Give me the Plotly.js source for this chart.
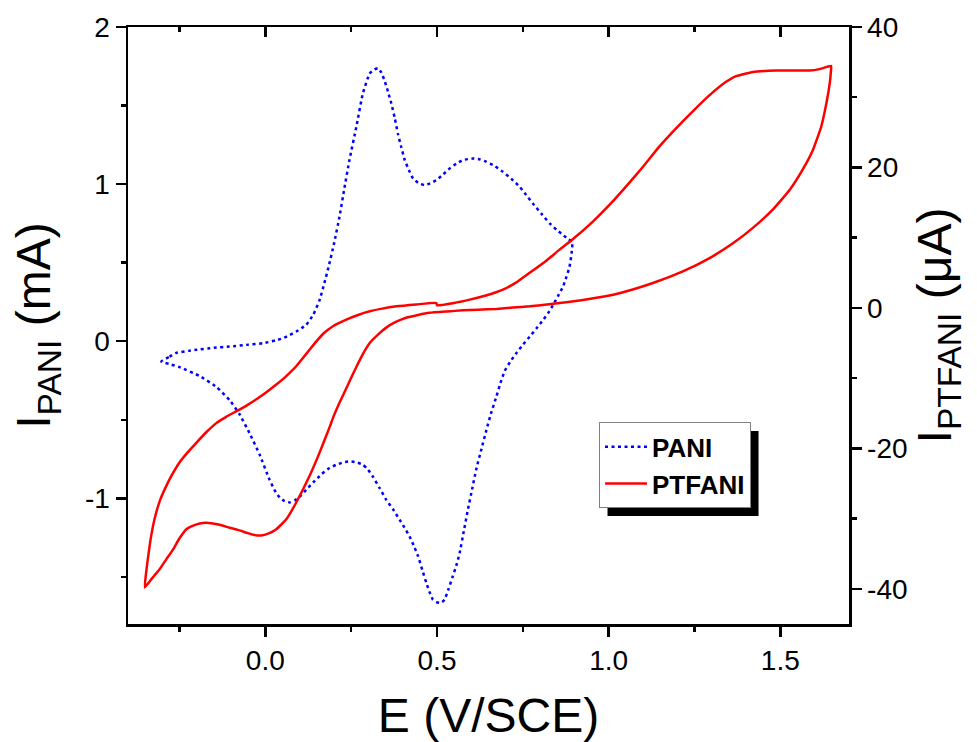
<!DOCTYPE html>
<html>
<head>
<meta charset="utf-8">
<script src="https://cdn.plot.ly/plotly-3.0.1.min.js"></script>
<style>html,body{margin:0;padding:0;background:#fff;}#chart{width:977px;height:742px;}</style>
</head>
<body>
<div id="chart"></div>
<script>
// PANI cyclic voltammogram (left axis, mA)
var paniE = [-0.303,-0.279,-0.26,-0.22,-0.201,-0.15,-0.104,-0.05,-0.007,0.03,0.051,0.07,0.09,0.119,0.14,0.158,0.172,0.185,0.2,0.216,0.23,0.245,0.265,0.284,0.304,0.318,0.328,0.338,0.347,0.357,0.367,0.377,0.386,0.396,0.406,0.418,0.43,0.447,0.464,0.48,0.498,0.517,0.537,0.556,0.575,0.605,0.625,0.644,0.668,0.692,0.716,0.741,0.76,0.779,0.804,0.828,0.848,0.867,0.882,0.894,
  0.892,0.886,0.877,0.867,0.853,0.838,0.824,0.809,0.79,0.77,0.75,0.731,0.714,0.697,0.685,0.673,0.658,0.644,0.629,0.614,0.602,0.59,0.578,0.566,0.556,0.546,0.534,0.522,0.515,0.508,0.498,0.488,0.478,0.469,0.457,0.445,0.432,0.42,0.405,0.391,0.372,0.352,0.333,0.313,0.298,0.284,0.265,0.245,0.226,0.207,0.187,0.163,0.139,0.119,0.1,0.085,0.071,0.056,0.042,0.03,0.012,-0.017,-0.046,-0.075,-0.104,-0.143,-0.191,-0.25,-0.28,-0.303];
var paniI = [-0.13,-0.098,-0.075,-0.06,-0.055,-0.042,-0.034,-0.022,-0.013,0.005,0.019,0.038,0.061,0.104,0.17,0.262,0.37,0.48,0.62,0.792,0.97,1.153,1.364,1.577,1.704,1.73,1.738,1.71,1.661,1.59,1.513,1.42,1.322,1.235,1.153,1.09,1.036,1.005,0.994,1.005,1.025,1.06,1.1,1.13,1.153,1.163,1.157,1.142,1.115,1.078,1.035,0.983,0.93,0.877,0.812,0.75,0.71,0.676,0.65,0.633,
  0.56,0.474,0.41,0.347,0.29,0.231,0.18,0.135,0.083,0.029,-0.023,-0.076,-0.128,-0.19,-0.265,-0.352,-0.455,-0.564,-0.69,-0.818,-0.945,-1.072,-1.21,-1.348,-1.43,-1.496,-1.575,-1.645,-1.66,-1.666,-1.66,-1.645,-1.595,-1.538,-1.455,-1.369,-1.3,-1.242,-1.185,-1.136,-1.07,-1.009,-0.935,-0.861,-0.815,-0.786,-0.77,-0.765,-0.772,-0.786,-0.807,-0.848,-0.9,-0.946,-0.99,-1.015,-1.026,-1.018,-0.995,-0.96,-0.88,-0.72,-0.585,-0.465,-0.375,-0.29,-0.222,-0.165,-0.145,-0.13];

// PTFANI cyclic voltammogram (right axis, µA)
var ptfaniE = [-0.351,-0.347,-0.341,-0.333,-0.322,-0.306,-0.288,-0.27,-0.25,-0.225,-0.201,-0.172,-0.143,-0.114,-0.084,-0.055,-0.026,0.003,0.032,0.061,0.09,0.12,0.148,0.17,0.197,0.236,0.27,0.304,0.34,0.382,0.44,0.498,0.5,0.55,0.595,0.645,0.692,0.73,0.77,0.82,0.857,0.891,0.954,1.003,1.051,1.1,1.148,1.197,1.245,1.294,1.342,1.371,1.42,1.488,1.54,1.585,1.614,1.648,
  1.647,1.644,1.634,1.619,1.595,1.565,1.527,1.478,1.42,1.362,1.294,1.216,1.129,1.031,0.934,0.857,0.82,0.77,0.72,0.673,0.62,0.575,0.53,0.478,0.445,0.41,0.38,0.352,0.328,0.304,0.285,0.265,0.24,0.216,0.2,0.187,0.158,0.129,0.09,0.061,0.032,0.01,-0.012,-0.035,-0.055,-0.08,-0.104,-0.13,-0.153,-0.172,-0.191,-0.21,-0.23,-0.25,-0.269,-0.29,-0.308,-0.33,-0.351];
var ptfaniI = [-39.8,-37.6,-35.3,-32.6,-29.9,-27.3,-25.3,-23.6,-22.0,-20.5,-19.2,-17.7,-16.4,-15.5,-14.7,-13.9,-13.0,-12.0,-10.9,-9.7,-8.3,-6.5,-4.8,-3.6,-2.6,-1.66,-1.0,-0.48,-0.1,0.23,0.5,0.71,0.37,0.7,1.18,1.8,2.6,3.6,5.0,6.8,8.3,9.6,12.3,14.7,17.3,20.1,23.0,25.6,28.0,30.3,32.2,33.0,33.6,33.8,33.8,33.8,34.0,34.45,
  33.5,32.0,29.1,25.8,22.5,19.7,16.8,14.0,11.4,9.2,7.1,5.2,3.55,2.1,1.2,0.7,0.5,0.23,0.05,-0.14,-0.25,-0.34,-0.5,-0.7,-1.0,-1.4,-2.0,-2.8,-3.8,-5.0,-6.5,-8.4,-11.0,-13.5,-15.3,-17.0,-20.6,-23.9,-27.7,-30.1,-31.5,-32.1,-32.4,-32.3,-32.0,-31.6,-31.3,-30.9,-30.7,-30.6,-30.7,-31.0,-31.5,-32.8,-34.4,-35.9,-37.2,-38.5,-39.8];

var seriesNames = ['PANI', 'PTFANI'];
var xRange = [-0.4, 1.7];
var yLeftRange = [-1.8, 2];
var yRightRange = [-45, 40];
var yLeftTicks = [-1, 0, 1, 2];
var yLeftTickText = ['-1', '0', '1', '2'];
var yRightTicks = [-40, -20, 0, 20, 40];
var yRightTickText = ['-40', '-20', '0', '20', '40'];

var FONT = 'Arial, "Liberation Sans", sans-serif';

var traces = [
  {x: paniE, y: paniI, name: seriesNames[0], type: 'scatter', mode: 'lines',
   line: {color: '#0000ff', width: 2.5, dash: '3px,3.5px', shape: 'spline', smoothing: 0.4},
   xaxis: 'x', yaxis: 'y', hoverinfo: 'skip'},
  {x: ptfaniE, y: ptfaniI, name: seriesNames[1], type: 'scatter', mode: 'lines',
   line: {color: '#ff0000', width: 2.5, shape: 'spline', smoothing: 0.4},
   xaxis: 'x2', yaxis: 'y2', hoverinfo: 'skip'}
];

var axisCommon = {
  showline: true, linecolor: '#000', linewidth: 2.5,
  showgrid: false, zeroline: false,
  ticks: 'outside', ticklen: 10, tickwidth: 2.5, tickcolor: '#000',
  tickfont: {family: FONT, size: 28, color: '#000'},
  automargin: false, fixedrange: true
};
function ax(extra) { return Object.assign({}, axisCommon, extra); }
function minorTicks(d, dir) { return {tickmode: 'linear', tick0: 0, dtick: d, ticklen: 5, tickwidth: 2.5, tickcolor: '#000', ticks: dir}; }

var layout = {
  width: 977, height: 742,
  margin: {l: 128, r: 128, t: 27, b: 118, pad: 0},
  paper_bgcolor: '#fff', plot_bgcolor: '#fff',
  font: {family: FONT, color: '#000'},
  showlegend: true,
  xaxis: ax({
    range: xRange, tickmode: 'linear', dtick: 0.5, tick0: 0, tickformat: '.1f',
    minor: minorTicks(0.25, 'outside'),
    title: {text: 'E (V/SCE)', font: {family: FONT, size: 48, color: '#000'}, standoff: 24},
    anchor: 'y'
  }),
  xaxis2: ax({
    range: xRange, tickmode: 'linear', dtick: 0.5, tick0: 0, overlaying: 'x', side: 'top', anchor: 'y2',
    ticks: 'inside', showticklabels: false,
    minor: minorTicks(0.25, 'inside')
  }),
  yaxis: ax({
    range: yLeftRange, tickmode: 'array', tickvals: yLeftTicks, ticktext: yLeftTickText,
    minor: minorTicks(0.5, 'outside'),
    title: {text: 'I<sub>PANI</sub> (mA)', font: {family: FONT, size: 48, color: '#000'}, standoff: 19},
    anchor: 'x'
  }),
  yaxis2: ax({
    range: yRightRange, tickmode: 'array', tickvals: yRightTicks, ticktext: yRightTickText,
    overlaying: 'y', side: 'right', anchor: 'x2',
    minor: minorTicks(10, 'outside'),
    title: {text: 'I<sub>PTFANI</sub> (μA)', font: {family: FONT, size: 48, color: '#000'}, standoff: 10}
  }),
  legend: {
    x: 0.6533, y: 0.3377, xanchor: 'left', yanchor: 'top',
    bgcolor: '#fff', bordercolor: '#808080', borderwidth: 1,
    font: {family: FONT, size: 26, color: '#000', weight: 'bold'},
    itemwidth: 42, tracegroupgap: 0
  },
  shapes: []
};

var gd = document.getElementById('chart');
Plotly.newPlot(gd, traces, layout, {displayModeBar: false, staticPlot: true}).then(function () {
  // drop shadow behind the legend box, sized from the drawn legend
  var bg = gd.querySelector('.legend .bg');
  if (!bg) return;
  var r = bg.getBoundingClientRect();
  var g = gd.getBoundingClientRect();
  var s = gd._fullLayout._size;
  var off = 8;
  var x0 = r.left - g.left + off, x1 = r.right - g.left + off;
  var yTop = r.top - g.top + off, yBot = r.bottom - g.top + off;
  return Plotly.relayout(gd, {shapes: [{
    type: 'rect', xref: 'paper', yref: 'paper',
    x0: (x0 - s.l) / s.w, x1: (x1 - s.l) / s.w,
    y0: 1 - (yBot - s.t) / s.h, y1: 1 - (yTop - s.t) / s.h,
    fillcolor: '#000', line: {width: 0}, layer: 'below'
  }]});
});
</script>
</body>
</html>
